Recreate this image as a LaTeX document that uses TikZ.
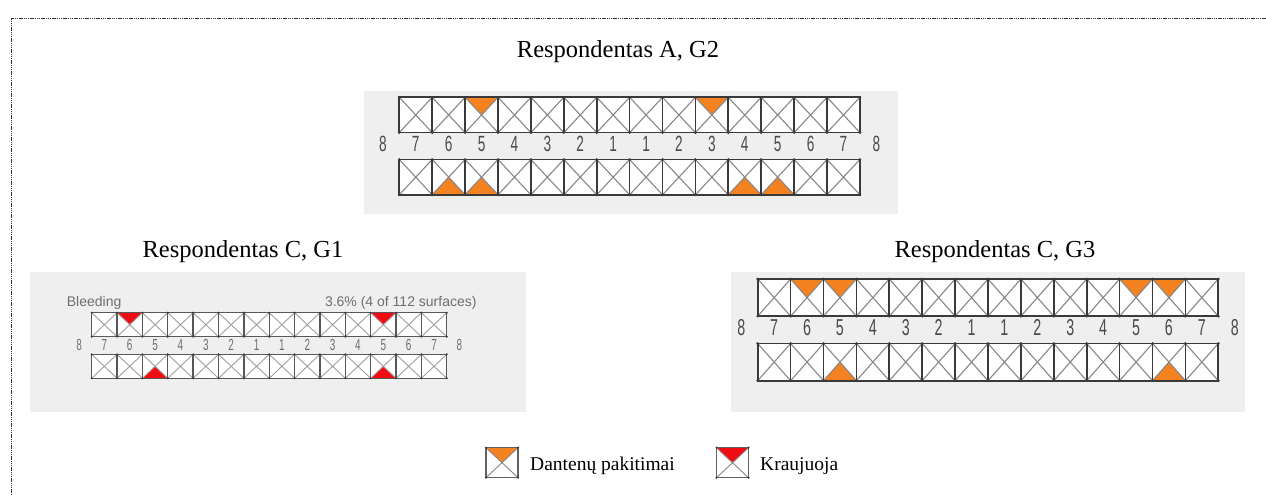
\documentclass[tikz,border=0pt]{standalone}
\usepackage{fontspec}
\setmainfont{Liberation Serif}
\newfontfamily\chartsans{Liberation Sans}
\newfontfamily\chartdigits[FakeStretch=0.62]{Liberation Sans}

\definecolor{panelgray}{RGB}{239,239,239}
\definecolor{changeorange}{RGB}{245,130,32}
\definecolor{bleedred}{RGB}{240,12,18}
\definecolor{cellline}{RGB}{58,58,58}
\definecolor{diagline}{RGB}{135,135,135}
\definecolor{labelgray}{RGB}{75,75,75}
\definecolor{framedots}{RGB}{50,50,50}

\tikzset{
  cellbg/.style={rectangle, fill=white, inner sep=0pt, outer sep=0pt},
  diag/.style={draw=diagline, line width=1.1pt},
  cellframe/.style={draw=cellline, line width=1.7pt},
  vertexdot/.style={fill=cellline},
  markfill/.style={fill=changeorange},
  numlbl/.style={font=\chartdigits\fontsize{22}{22}\selectfont, text=labelgray, inner sep=0pt, anchor=mid},
  charttitle/.style={font=\fontsize{24.5}{26}\selectfont, inner sep=0pt, anchor=base},
  legendtext/.style={font=\fontsize{19.5}{21}\selectfont, inner sep=0pt, anchor=base west},
  smalltext/.style={font=\chartsans\fontsize{14}{14}\selectfont, text=labelgray!80!white, inner sep=0pt},
  panel/.style={fill=panelgray},
}

\newcommand\dotrad{1.5}

% #1 name prefix, #2 left x, #3 upper row top, #4 lower row top,
% #5 cell width, #6 cell height, #7 marked upper cells, #8 marked lower cells
\newcommand\toothchart[8]{%
  \foreach \i in {1,...,14}{
    \node[cellbg, minimum width=#5pt, minimum height=#6pt] (#1t\i) at ({#2+(\i-0.5)*#5},{#3+0.5*#6}) {};
    \node[cellbg, minimum width=#5pt, minimum height=#6pt] (#1b\i) at ({#2+(\i-0.5)*#5},{#4+0.5*#6}) {};
  }
  \foreach \m in {#7}{\fill[markfill] (#1t\m.north west) -- (#1t\m.north east) -- (#1t\m.center) -- cycle;}
  \foreach \m in {#8}{\fill[markfill] (#1b\m.south west) -- (#1b\m.south east) -- (#1b\m.center) -- cycle;}
  \foreach \r in {t,b}{\foreach \i in {1,...,14}{
    \draw[diag] (#1\r\i.north west) -- (#1\r\i.south east) (#1\r\i.north east) -- (#1\r\i.south west);
    \draw[cellframe] (#1\r\i.north west) rectangle (#1\r\i.south east);
  }}
  \foreach \r in {t,b}{
    \foreach \i in {1,...,14}{
      \fill[vertexdot] (#1\r\i.north west) circle[radius=\dotrad] (#1\r\i.south west) circle[radius=\dotrad];
    }
    \fill[vertexdot] (#1\r14.north east) circle[radius=\dotrad] (#1\r14.south east) circle[radius=\dotrad];
  }
  \foreach \n [count=\k] in {8,7,6,5,4,3,2,1,1,2,3,4,5,6,7,8}{
    \node[numlbl] (#1n\k) at ({#2+(\k-1.5)*#5},{0.5*(#3+#6+#4)+\lbldrop}) {\n};
  }
}
\newcommand\lbldrop{3.5}

% legend key: #1 name, #2 centre x, #3 centre y, #4 fill colour
\newcommand\legendkey[4]{%
  \node[cellbg, minimum width=32pt, minimum height=30pt] (#1) at (#2,#3) {};
  \fill[#4] (#1.north west) -- (#1.north east) -- (#1.center) -- cycle;
  \draw[draw=diagline, line width=0.9pt] (#1.north west) -- (#1.south east) (#1.north east) -- (#1.south west);
  \draw[draw=cellline!80!white, line width=1.1pt] (#1.north west) rectangle (#1.south east);
  \fill[vertexdot] (#1.north west) circle[radius=1.2] (#1.north east) circle[radius=1.2]
                   (#1.south west) circle[radius=1.2] (#1.south east) circle[radius=1.2];
}

\begin{document}
\begin{tikzpicture}[x=1pt, y=-1pt]
  \useasboundingbox (0,0) rectangle (1266,495);
  \fill[white] (0,0) rectangle (1266,495);

  % dotted page frame
  \draw[framedots, line width=1.4pt, dash pattern=on 1.4pt off 0.8pt]
    (11.5,495) -- (11.5,18.7) -- (1266,18.7);

  % grey panels
  \fill[panel] (364,91) rectangle (898,214);
  \fill[panel] (30,272) rectangle (526,412);
  \fill[panel] (731,272) rectangle (1245,412);

  % titles
  \node[charttitle] (titleA) at (618,58) {Respondentas A, G2};
  \node[charttitle] (titleC1) at (243,257) {Respondentas C, G1};
  \node[charttitle] (titleC3) at (995,257) {Respondentas C, G3};

  % Respondentas A, G2
  \toothchart{A}{399.3}{97.3}{159.5}{32.9}{35.3}{3,10}{2,3,11,12}

  % Respondentas C, G1
  \begin{scope}[markfill/.style={fill=bleedred},
                diag/.style={draw=diagline!80!white, line width=0.9pt},
                cellframe/.style={draw=cellline!85!white, line width=1.3pt},
                numlbl/.style={font=\chartdigits\fontsize{16}{16}\selectfont, text=labelgray!80!white, inner sep=0pt, anchor=mid}]
    \renewcommand\dotrad{1.1}
    \renewcommand\lbldrop{2.8}
    \toothchart{G}{91.7}{312.7}{354.3}{25.36}{24}{2,12}{3,12}
    \node[smalltext, anchor=base west] (bleed) at (66.7,306.5) {Bleeding};
    \node[smalltext, anchor=base east] (share) at (476.7,306.5) {3.6\% (4 of 112 surfaces)};
  \end{scope}

  % Respondentas C, G3
  \begin{scope}[numlbl/.style={font=\chartdigits\fontsize{23}{23}\selectfont, text=labelgray, inner sep=0pt, anchor=mid}]
    \renewcommand\lbldrop{3.8}
    \toothchart{T}{757.7}{279}{343.5}{32.9}{37.2}{2,3,12,13}{3,13}
  \end{scope}

  % legend
  \legendkey{keyA}{502}{462.7}{changeorange}
  \node[legendtext] (keyAtext) at (530,470.5) {Dantenų pakitimai};
  \legendkey{keyB}{732.5}{462.7}{bleedred}
  \node[legendtext] (keyBtext) at (760,470.5) {Kraujuoja};
\end{tikzpicture}
\end{document}
